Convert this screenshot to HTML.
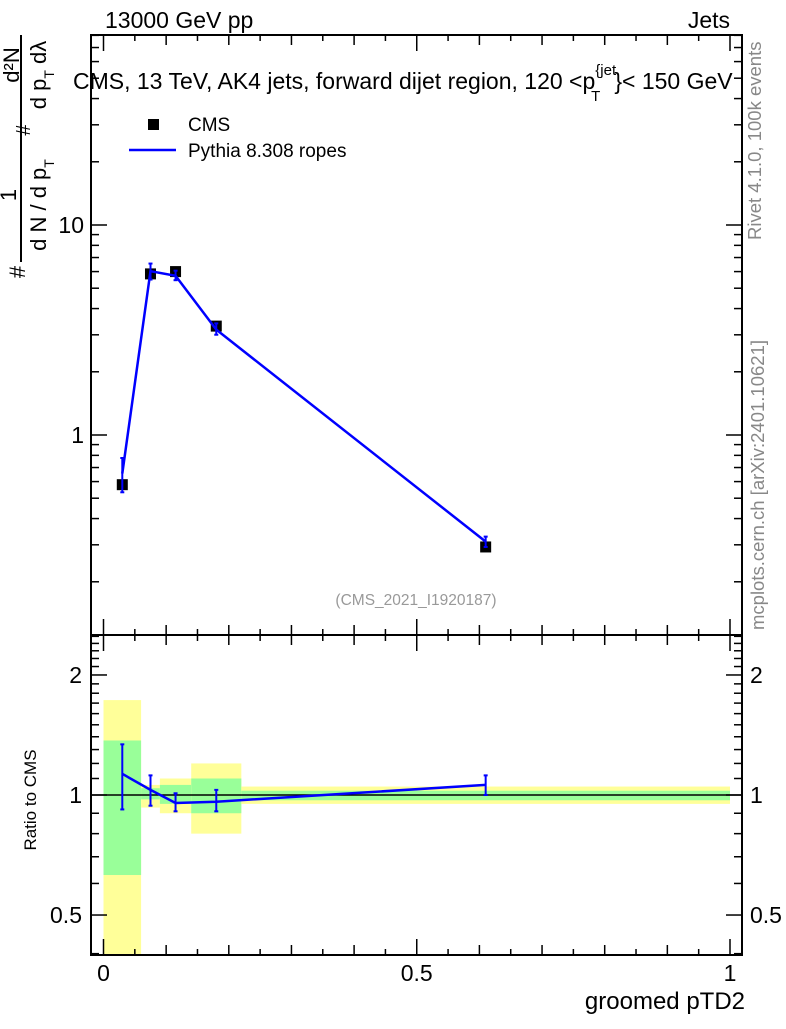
<!DOCTYPE html>
<html><head><meta charset="utf-8"><style>
body{margin:0;background:#fff;}
svg text{font-family:"Liberation Sans",sans-serif;}
</style></head><body>
<svg id="c" width="786" height="1024" xmlns="http://www.w3.org/2000/svg">
<text x="105" y="28" font-size="23">13000 GeV pp</text>
<text x="730" y="28" font-size="23" text-anchor="end">Jets</text>
<text x="73" y="89" font-size="23">CMS, 13 TeV, AK4 jets, forward dijet region, 120 &lt;p<tspan font-size="15" dy="-14">{jet</tspan><tspan font-size="15" dx="-25" dy="26">T</tspan><tspan dy="-12" dx="14">}&lt; 150 GeV</tspan></text>
<g transform="translate(761,240) rotate(-90)"><text font-size="18.5" fill="#888">Rivet 4.1.0,  100k events</text></g>
<g transform="translate(764,630) rotate(-90)"><text font-size="18.5" fill="#888">mcplots.cern.ch [arXiv:2401.10621]</text></g>
<text x="416" y="605" font-size="15.5" fill="#999" text-anchor="middle">(CMS_2021_I1920187)</text>
<g>
<line x1="21" x2="21" y1="35" y2="262" stroke="#000" stroke-width="2"/>
<text font-size="22" transform="translate(25,272) rotate(-90)" text-anchor="middle">#</text>
<text font-size="22" transform="translate(16,195) rotate(-90)" text-anchor="middle">1</text>
<text font-size="22" transform="translate(19,65) rotate(-90)" text-anchor="middle">d²N</text>
<text font-size="20" transform="translate(30,130) rotate(-90)" text-anchor="middle">#</text>
<text font-size="22" transform="translate(46,205) rotate(-90)" text-anchor="middle">d N / d p<tspan font-size="14" dy="8">T</tspan></text>
<text font-size="22" transform="translate(46,75) rotate(-90)" text-anchor="middle">d p<tspan font-size="14" dy="8">T</tspan><tspan dy="-8">  dλ</tspan></text>
</g>
<text x="36" y="800" font-size="17" transform="rotate(-90 36 800)" text-anchor="middle">Ratio to CMS</text>
<text x="745" y="1009" font-size="24" text-anchor="end">groomed pTD2</text>
<g id="g"></g>
</svg>
<script>
const xs=[0.03,0.075,0.115,0.18,0.61];
const edges=[0,0.06,0.09,0.14,0.22,1.0];
const cms=[0.58,5.85,6.0,3.3,0.293];
const ratio=[1.13,1.03,0.955,0.962,1.06];
const ratioUp=[1.34,1.12,1.01,1.03,1.12];
const ratioDn=[0.92,0.94,0.91,0.91,1.0];
const bandY1=[1.73,1.06,1.10,1.2,1.05];
const bandY2=[0.35,0.93,0.90,0.80,0.95];
const bandG1=[1.37,1.04,1.06,1.1,1.025];
const bandG2=[0.63,0.975,0.95,0.9,0.97];
const yTicks=[1,10];
const rTicks=[0.5,1,2];
const xTicks=[0,0.5,1];
const NS='http://www.w3.org/2000/svg';
const g=document.getElementById('g');
const L=91,R=742,T=35,MB=635,B=955;
const X=v=>103.5+v*626.5;
const Y=v=>435-Math.log10(v)*210;
const RY=v=>795-Math.log10(v)*398.7;
function mk(t,a,p){const e=document.createElementNS(NS,t);for(const k in a)e.setAttribute(k,a[k]);(p||g).appendChild(e);return e;}
for(let i=0;i<5;i++){
 const y1=Math.max(RY(bandY1[i]),MB),y2=Math.min(RY(bandY2[i]),B);
 const e=mk('rect',{x:X(edges[i]),y:y1,width:X(edges[i+1])-X(edges[i]),height:y2-y1,fill:'#ffff99'});
 
 
 const g1=RY(bandG1[i]),g2=RY(bandG2[i]);
 const f=mk('rect',{x:X(edges[i]),y:g1,width:X(edges[i+1])-X(edges[i]),height:g2-g1,fill:'#99ff99'});
 
 
}
mk('line',{x1:L,x2:R,y1:RY(1),y2:RY(1),stroke:'#000','stroke-width':1.5});
const fr=mk('rect',{x:L,y:T,width:R-L,height:MB-T,fill:'none',stroke:'#000','stroke-width':2});


const fr2=mk('rect',{x:L,y:MB,width:R-L,height:B-MB,fill:'none',stroke:'#000','stroke-width':2});


for(let k=0;k<=20;k++){const v=k*0.05,x=X(v);const len=k%10==0?16:(k%2==0?10:6);
 for(const [y0,d] of [[MB,-1],[T,1],[B,-1],[MB,1]]) mk('line',{x1:x,x2:x,y1:y0,y2:y0+d*len,stroke:'#000','stroke-width':1.5});}
xTicks.forEach(v=>{const t=mk('text',{x:X(v),y:981,'font-size':23,'text-anchor':'middle'});t.textContent=String(v);
 
 });
for(let d=-1;d<=1;d++)for(let m=1;m<=9;m++){const v=m*Math.pow(10,d),y=Y(v);if(y<T||y>MB)continue;const len=m==1?16:8;
 mk('line',{x1:L,x2:L+len,y1:y,y2:y,stroke:'#000','stroke-width':1.5});mk('line',{x1:R,x2:R-len,y1:y,y2:y,stroke:'#000','stroke-width':1.5});}
yTicks.forEach(v=>{const t=mk('text',{x:84,y:Y(v)+8,'font-size':23,'text-anchor':'end'});t.textContent=String(v);
 
 });
[0.4,0.5,0.6,0.7,0.8,0.9,1,1.1,1.2,1.3,1.4,1.5,1.6,1.7,1.8,1.9,2,2.1,2.2,2.3,2.4,2.5].forEach(v=>{const y=RY(v);if(y<MB||y>B)return;const len=(v==0.5||v==1||v==2)?16:8;
 mk('line',{x1:L,x2:L+len,y1:y,y2:y,stroke:'#000','stroke-width':1.5});mk('line',{x1:R,x2:R-len,y1:y,y2:y,stroke:'#000','stroke-width':1.5});});
rTicks.forEach(v=>{for(const [x,a] of [[82,'end'],[750,'start']]){const t=mk('text',{x:x,y:RY(v)+8,'font-size':23,'text-anchor':a});t.textContent=String(v);
 
 }});
xs.forEach((v,i)=>{const r=mk('rect',{x:X(v)-5.5,y:Y(cms[i])-5.5,width:11,height:11,fill:'#000'});
 
 });
const mc=xs.map((v,i)=>cms[i]*ratio[i]);
const pl=mk('polyline',{points:xs.map((v,i)=>X(v)+','+Y(mc[i])).join(' '),fill:'none',stroke:'#0000ff','stroke-width':2.5});


xs.forEach((v,i)=>{const x=X(v),a=Y(cms[i]*ratioUp[i]),b=Y(cms[i]*ratioDn[i]);
 mk('line',{x1:x,x2:x,y1:a,y2:b,stroke:'#0000ff','stroke-width':2});
 mk('line',{x1:x-2,x2:x+2,y1:a,y2:a,stroke:'#0000ff','stroke-width':2});mk('line',{x1:x-2,x2:x+2,y1:b,y2:b,stroke:'#0000ff','stroke-width':2});});
const rl=mk('polyline',{points:xs.map((v,i)=>X(v)+','+RY(ratio[i])).join(' '),fill:'none',stroke:'#0000ff','stroke-width':2.5});


xs.forEach((v,i)=>{const x=X(v),a=RY(ratioUp[i]),b=RY(ratioDn[i]);
 mk('line',{x1:x,x2:x,y1:a,y2:b,stroke:'#0000ff','stroke-width':2});
 mk('line',{x1:x-2,x2:x+2,y1:a,y2:a,stroke:'#0000ff','stroke-width':2});mk('line',{x1:x-2,x2:x+2,y1:b,y2:b,stroke:'#0000ff','stroke-width':2});});
const lm=mk('rect',{x:148,y:119,width:11,height:11,fill:'#000'});


const l1=mk('text',{x:188,y:131,'font-size':19});l1.textContent='CMS';


mk('line',{x1:129,x2:176,y1:150,y2:150,stroke:'#0000ff','stroke-width':2.5});
const l2=mk('text',{x:188,y:157,'font-size':19});l2.textContent='Pythia 8.308 ropes';


</script>
</body></html>
